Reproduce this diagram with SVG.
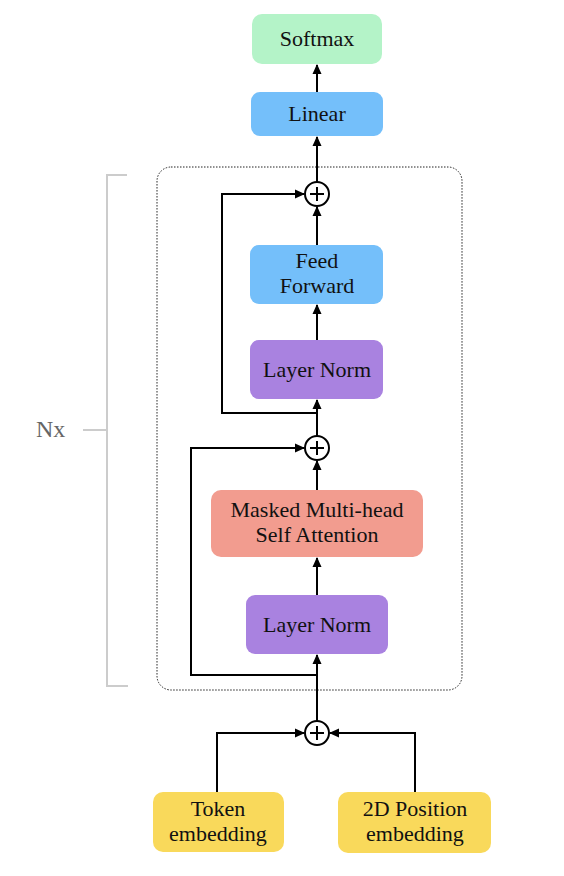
<svg xmlns="http://www.w3.org/2000/svg" width="564" height="876" viewBox="0 0 564 876">
<style>
.lbl{font-family:'Liberation Serif','Times New Roman',serif;font-size:22px;fill:#111;text-anchor:middle}
.conn{fill:none;stroke:#000;stroke-width:2}
.plus{fill:#fff;stroke:#000;stroke-width:2}
.brk{fill:none;stroke:#cccccc;stroke-width:2}
</style>
<defs>
<marker id="ah" markerUnits="userSpaceOnUse" markerWidth="10" markerHeight="10" viewBox="0 0 10 10" refX="9" refY="5" orient="auto">
<path d="M0,0.5 L10,5 L0,9.5 Z" fill="#000"/>
</marker>
</defs>
<rect width="564" height="876" fill="#fff"/>

<g id="block">
<rect x="157" y="167" width="305" height="523" rx="14" fill="none" stroke="#222" stroke-width="1" stroke-dasharray="1.5 1.5"/>
</g>

<g id="bracket">
<path class="brk" d="M127,175 H107 V686 H128"/>
<path class="brk" d="M83,430 H107"/>
<text x="36" y="437" font-family="'Liberation Serif','Times New Roman',serif" font-size="24" fill="#666">Nx</text>
</g>

<g id="connectors">
<path class="conn" d="M217,792 V733 H304" marker-end="url(#ah)"/>
<path class="conn" d="M415,792 V733 H330" marker-end="url(#ah)"/>
<path class="conn" d="M317,721 V655" marker-end="url(#ah)"/>
<path class="conn" d="M317,675 H191 V448 H304" marker-end="url(#ah)"/>
<path class="conn" d="M317,595 V558" marker-end="url(#ah)"/>
<path class="conn" d="M317,490 V461" marker-end="url(#ah)"/>
<path class="conn" d="M317,436 V400" marker-end="url(#ah)"/>
<path class="conn" d="M317,413 H222 V194 H304" marker-end="url(#ah)"/>
<path class="conn" d="M317,340 V305" marker-end="url(#ah)"/>
<path class="conn" d="M317,245 V207" marker-end="url(#ah)"/>
<path class="conn" d="M317,182 V137" marker-end="url(#ah)"/>
<path class="conn" d="M317,92 V65" marker-end="url(#ah)"/>
</g>

<g id="softmax">
<rect x="252" y="14" width="130" height="50" rx="10" fill="#b4f3c8"/>
<text class="lbl" x="317" y="46">Softmax</text>
</g>
<g id="linear">
<rect x="251" y="92" width="132" height="44" rx="9" fill="#74bffa"/>
<text class="lbl" x="317" y="121">Linear</text>
</g>
<g id="add1">
<circle class="plus" cx="317" cy="194" r="12"/>
<path d="M310,194 H324 M317,187 V201" stroke="#000" stroke-width="2"/>
</g>
<g id="feedforward">
<rect x="250" y="245" width="133" height="59" rx="9" fill="#74bffa"/>
<text class="lbl" x="317" y="268">Feed</text>
<text class="lbl" x="317" y="293">Forward</text>
</g>
<g id="layernorm1">
<rect x="250" y="340" width="133" height="59" rx="9" fill="#a982e0"/>
<text class="lbl" x="317" y="377">Layer Norm</text>
</g>
<g id="add2">
<circle class="plus" cx="317" cy="448" r="12"/>
<path d="M310,448 H324 M317,441 V455" stroke="#000" stroke-width="2"/>
</g>
<g id="attention">
<rect x="211" y="490" width="212" height="67" rx="10" fill="#f29c8f"/>
<text class="lbl" x="317" y="517">Masked Multi-head</text>
<text class="lbl" x="317" y="542">Self Attention</text>
</g>
<g id="layernorm2">
<rect x="246" y="595" width="142" height="59" rx="9" fill="#a982e0"/>
<text class="lbl" x="317" y="632">Layer Norm</text>
</g>
<g id="add3">
<circle class="plus" cx="317" cy="733" r="12"/>
<path d="M310,733 H324 M317,726 V740" stroke="#000" stroke-width="2"/>
</g>
<g id="token">
<rect x="153" y="792" width="131" height="60" rx="10" fill="#f9d95b"/>
<text class="lbl" x="218" y="816">Token</text>
<text class="lbl" x="218" y="841">embedding</text>
</g>
<g id="position">
<rect x="338" y="792" width="153" height="61" rx="10" fill="#f9d95b"/>
<text class="lbl" x="415" y="816">2D Position</text>
<text class="lbl" x="415" y="841">embedding</text>
</g>
</svg>
